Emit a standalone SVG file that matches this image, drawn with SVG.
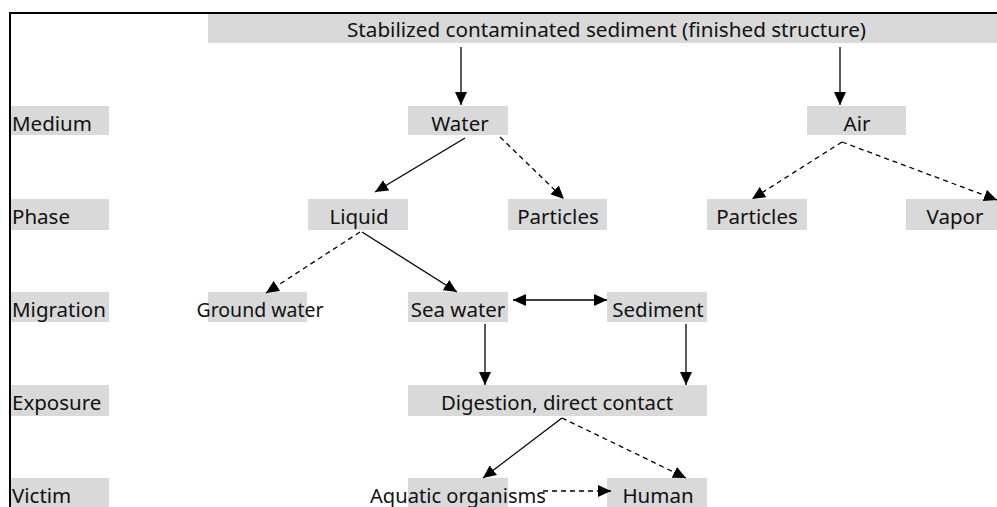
<svg xmlns="http://www.w3.org/2000/svg" width="997" height="507" viewBox="0 0 997 507">
<style>
.box{fill:#d9d9d9}
text{font-family:"Noto Sans","DejaVu Sans","Liberation Sans",sans-serif;font-size:20.5px;fill:#111}
.c{text-anchor:middle}
.ln{stroke:#000;stroke-width:1.3;fill:none;marker-end:url(#ah)}
.d{stroke-dasharray:5,4}
</style>
<defs>
<marker id="ah" markerUnits="userSpaceOnUse" markerWidth="13" markerHeight="12" viewBox="0 0 13 12" refX="13" refY="6" orient="auto-start-reverse">
<path d="M0,0 L13,6 L0,12 Z" fill="#000"/>
</marker>
</defs>
<rect width="997" height="507" fill="#fff"/>

<g id="labels">
<rect class="box" x="9" y="106" width="100" height="29"/><text x="12" y="131">Medium</text>
<rect class="box" x="9" y="199" width="100" height="31"/><text x="12" y="224">Phase</text>
<rect class="box" x="9" y="292" width="100" height="30"/><text x="12" y="317">Migration</text>
<rect class="box" x="9" y="385" width="100" height="31"/><text x="12" y="410">Exposure</text>
<rect class="box" x="9" y="478" width="100" height="29"/><text x="12" y="503">Victim</text>
</g>

<g id="title"><rect class="box" x="208" y="14" width="789" height="29"/><text x="347" y="37" textLength="519" lengthAdjust="spacingAndGlyphs">Stabilized contaminated sediment (finished structure)</text></g>
<g id="water"><rect class="box" x="408" y="106" width="100" height="29"/><text class="c" x="460" y="131">Water</text></g>
<g id="air"><rect class="box" x="807" y="106" width="99" height="29"/><text class="c" x="857" y="131">Air</text></g>
<g id="liquid"><rect class="box" x="308" y="199" width="100" height="31"/><text class="c" x="359" y="224">Liquid</text></g>
<g id="particles1"><rect class="box" x="508" y="199" width="99" height="31"/><text class="c" x="558" y="224">Particles</text></g>
<g id="particles2"><rect class="box" x="707" y="199" width="100" height="31"/><text class="c" x="757" y="224">Particles</text></g>
<g id="vapor"><rect class="box" x="906" y="199" width="91" height="31"/><text class="c" x="955" y="224">Vapor</text></g>
<g id="groundwater"><rect class="box" x="208" y="292" width="99" height="30"/><text class="c" x="260" y="317" textLength="127" lengthAdjust="spacingAndGlyphs">Ground water</text></g>
<g id="seawater"><rect class="box" x="408" y="292" width="100" height="30"/><text class="c" x="458" y="317">Sea water</text></g>
<g id="sediment"><rect class="box" x="607" y="292" width="100" height="30"/><text class="c" x="658" y="317">Sediment</text></g>
<g id="digestion"><rect class="box" x="408" y="385" width="299" height="31"/><text class="c" x="557" y="410" textLength="232" lengthAdjust="spacingAndGlyphs">Digestion, direct contact</text></g>
<g id="aquatic"><rect class="box" x="408" y="478" width="100" height="29"/><text class="c" x="458" y="503" textLength="176" lengthAdjust="spacingAndGlyphs">Aquatic organisms</text></g>
<g id="human"><rect class="box" x="607" y="478" width="100" height="29"/><text class="c" x="658" y="503">Human</text></g>

<g id="connectors">
<path class="ln" d="M461,47 V105"/>
<path class="ln" d="M840,47 V105"/>
<path class="ln" d="M465,138 L375,192"/>
<path class="ln d" d="M500,137 L564,199"/>
<path class="ln d" d="M842,142 L752,199"/>
<path class="ln d" d="M842,142 L997,200"/>
<path class="ln d" d="M360,232 L266,293"/>
<path class="ln" d="M362,232 L457,292"/>
<path class="ln" d="M513,300 H607" marker-start="url(#ah)"/>
<path class="ln" d="M485,324 V385"/>
<path class="ln" d="M686,324 V385"/>
<path class="ln" d="M562,418 L483,478"/>
<path class="ln d" d="M562,418 L686,478"/>
<path class="ln d" d="M543,491 H611"/>
</g>
<path d="M10,507 V13 H997" fill="none" stroke="#000" stroke-width="2"/>
</svg>
